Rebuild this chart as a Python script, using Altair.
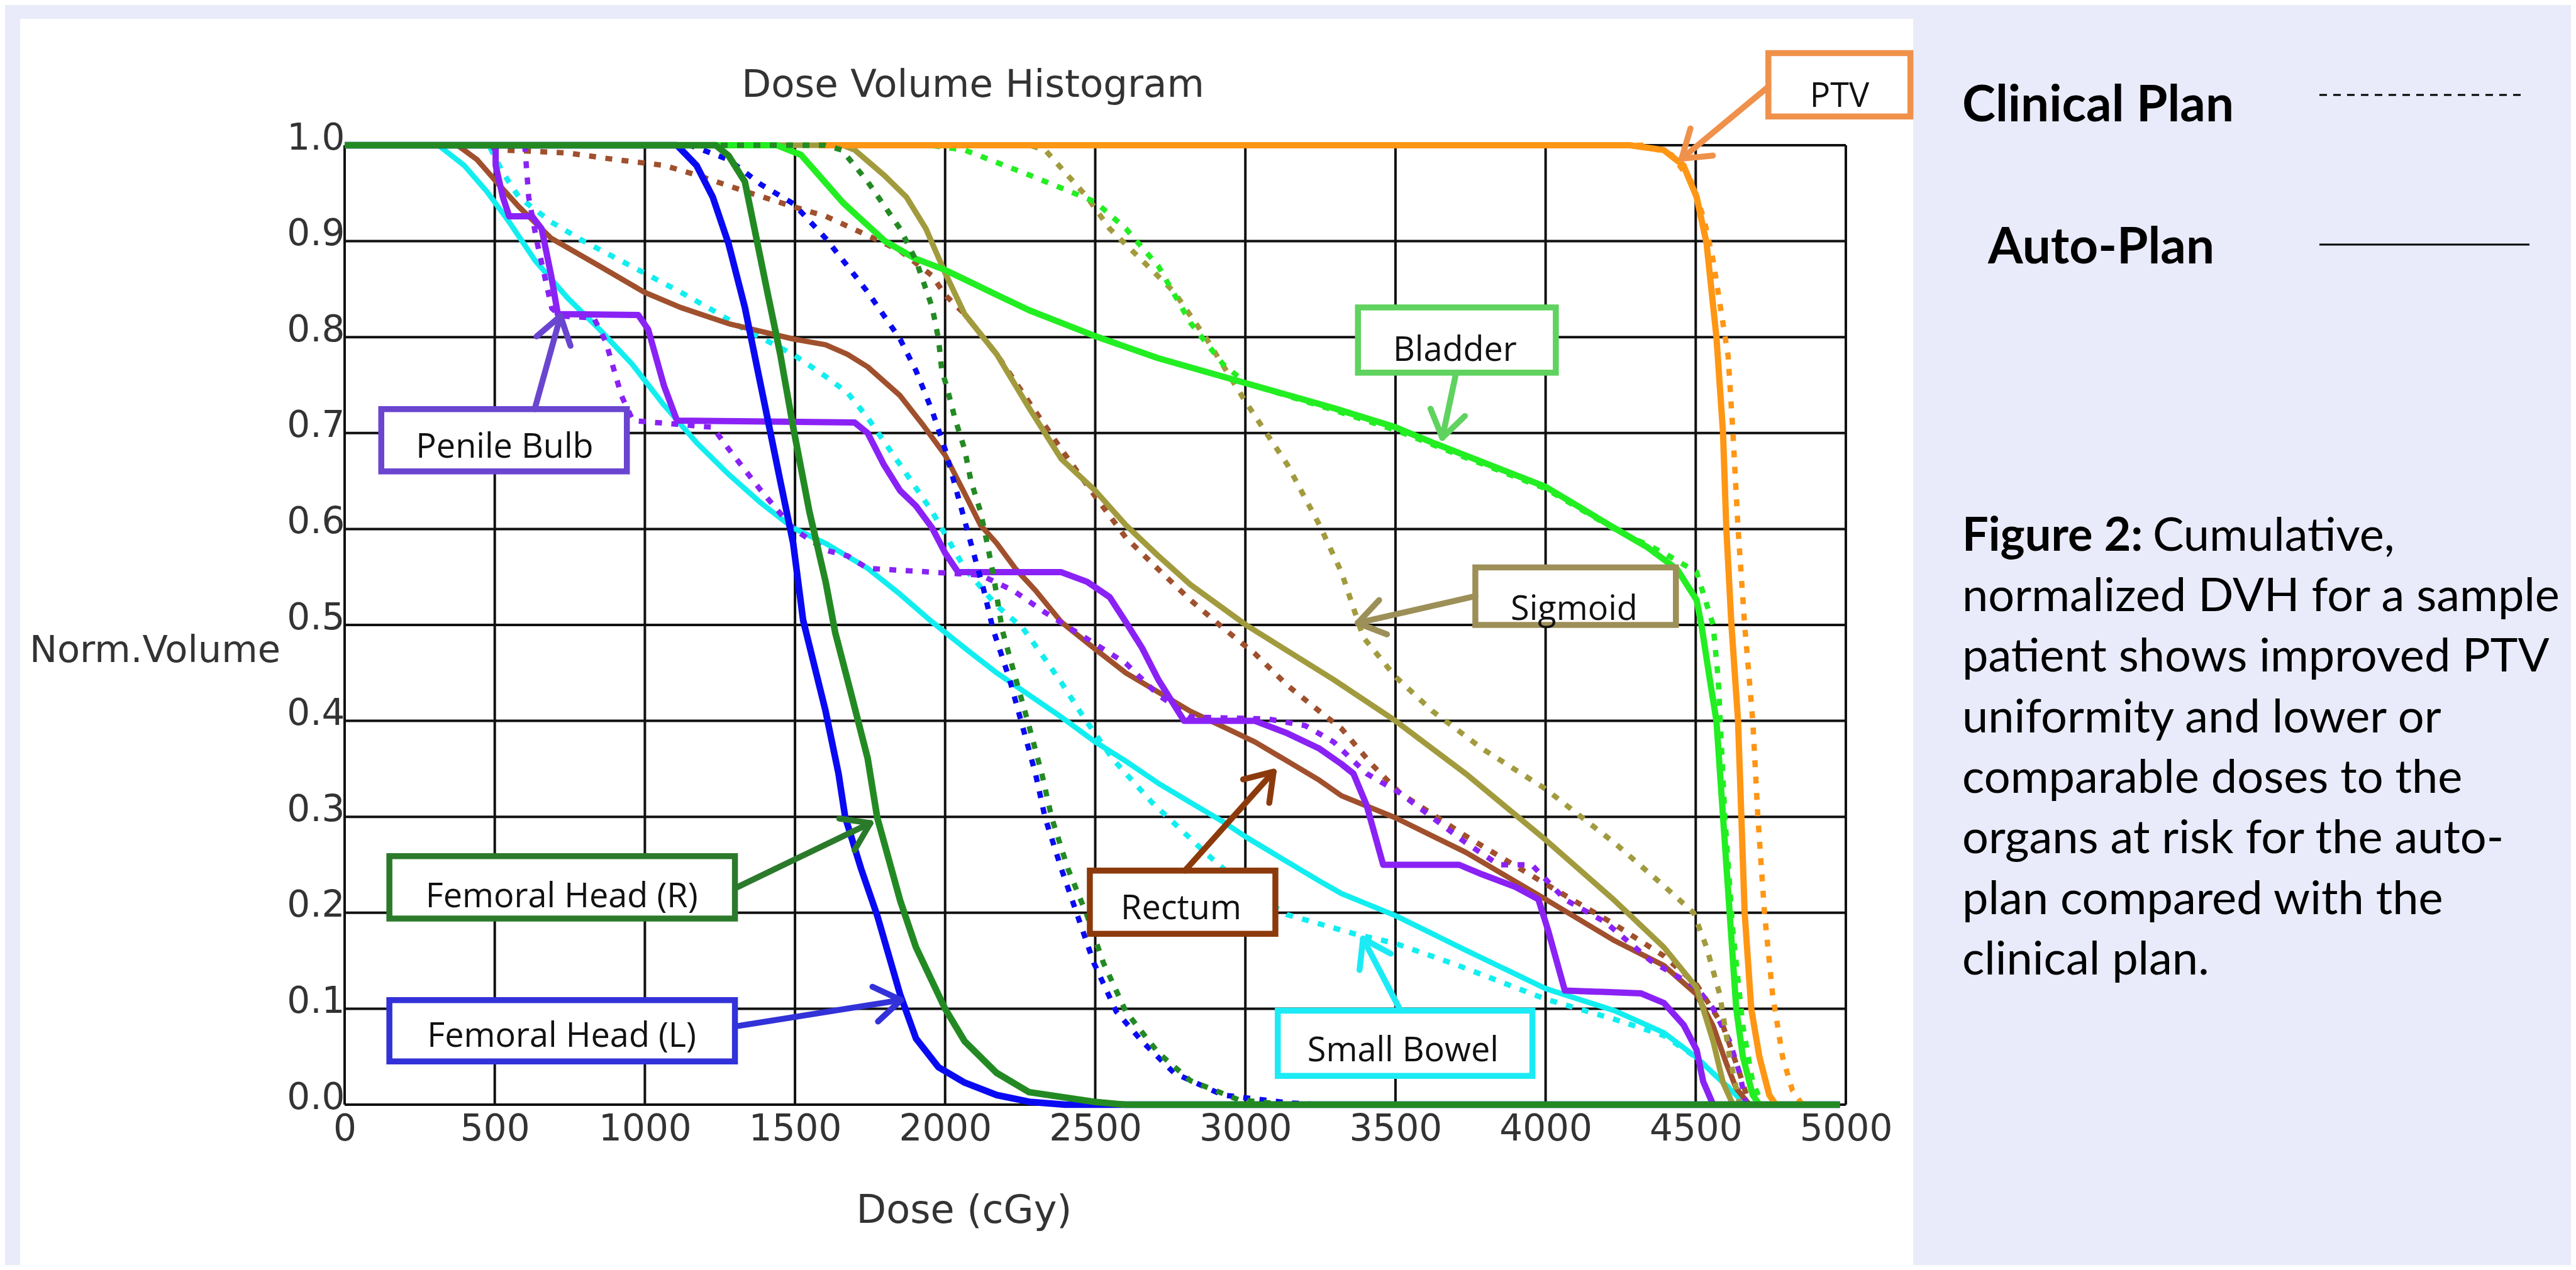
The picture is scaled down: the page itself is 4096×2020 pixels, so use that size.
import math
import altair as alt
import pandas as pd

# ---------------- data ----------------
X_TICKS = [0, 500, 1000, 1500, 2000, 2500, 3000, 3500, 4000, 4500, 5000]
Y_TICKS = [0.0, 0.1, 0.2, 0.3, 0.4, 0.5, 0.6, 0.7, 0.8, 0.9, 1.0]

SB_AUTO_DOSE = [0, 312, 398, 473, 548, 634, 742, 849, 957, 1064, 1172, 1279, 1387, 1494, 1602, 1742, 1850, 1957, 2065, 2172,
                2280, 2387, 2500, 2602, 2710, 2817, 2925, 3002, 3140, 3247, 3320, 3500, 3734, 4000, 4229, 4394, 4503, 4591, 4668, 4960]
SB_AUTO_VOL = [1.0, 1.0, 0.979, 0.952, 0.92, 0.88, 0.841, 0.808, 0.772, 0.729, 0.69, 0.657, 0.627, 0.601, 0.585, 0.559, 0.532, 0.503, 0.476, 0.45,
               0.427, 0.404, 0.378, 0.358, 0.335, 0.315, 0.295, 0.279, 0.253, 0.233, 0.22, 0.197, 0.161, 0.121, 0.098, 0.075, 0.049, 0.023, 0.0, 0.0]
SB_CLIN_DOSE = [0, 480, 530, 580, 688, 796, 997, 1118, 1226, 1333, 1494, 1602, 1675, 1742, 1850, 1957, 2065, 2172, 2258, 2320,
                2387, 2463, 2559, 2689, 2869, 3002, 3139, 3364, 3500, 3701, 4000, 4229, 4394, 4503, 4591, 4679, 4960]
SB_CLIN_VOL = [1.0, 1.0, 0.97, 0.946, 0.92, 0.9, 0.867, 0.847, 0.828, 0.808, 0.782, 0.759, 0.742, 0.716, 0.667, 0.618, 0.559, 0.52, 0.497, 0.47,
               0.44, 0.403, 0.36, 0.315, 0.262, 0.225, 0.198, 0.178, 0.168, 0.146, 0.11, 0.089, 0.072, 0.049, 0.023, 0.0, 0.0]

RECT_AUTO_DOSE = [0, 376, 441, 505, 580, 688, 849, 997, 1118, 1279, 1387, 1495, 1602, 1675, 1742, 1850, 1925, 2000, 2065, 2118,
                  2172, 2236, 2301, 2387, 2495, 2602, 2710, 2817, 2925, 3032, 3140, 3247, 3320, 3500, 3734, 4000, 4229, 4394, 4503, 4558,
                  4602, 4635, 4679, 4960]
RECT_AUTO_VOL = [1.0, 1.0, 0.985, 0.962, 0.936, 0.903, 0.874, 0.847, 0.831, 0.814, 0.806, 0.798, 0.792, 0.782, 0.769, 0.739, 0.709, 0.677, 0.637, 0.604,
                 0.585, 0.558, 0.536, 0.503, 0.476, 0.45, 0.43, 0.41, 0.394, 0.378, 0.358, 0.338, 0.322, 0.299, 0.263, 0.214, 0.171, 0.145, 0.115, 0.082,
                 0.043, 0.017, 0.0, 0.0]
RECT_CLIN_DOSE = [0, 450, 527, 742, 903, 1064, 1172, 1333, 1494, 1602, 1742, 1850, 1957, 2000, 2065, 2172, 2280, 2387, 2500, 2602,
                  2710, 2817, 2925, 3032, 3140, 3247, 3320, 3420, 3514, 3734, 4000, 4229, 4394, 4503, 4591, 4646, 4679, 4960]
RECT_CLIN_VOL = [1.0, 1.0, 0.995, 0.992, 0.985, 0.979, 0.969, 0.952, 0.936, 0.926, 0.906, 0.89, 0.864, 0.844, 0.824, 0.782, 0.732, 0.683, 0.634, 0.591,
                 0.558, 0.526, 0.497, 0.47, 0.437, 0.41, 0.392, 0.355, 0.325, 0.28, 0.23, 0.188, 0.155, 0.125, 0.082, 0.033, 0.0, 0.0]

PB_AUTO_DOSE = [0, 503, 503, 527, 548, 624, 656, 688, 710, 978, 1011, 1064, 1107, 1699, 1742, 1796, 1850, 1903, 1957, 2000,
                2043, 2387, 2473, 2548, 2602, 2656, 2710, 2796, 3032, 3140, 3247, 3320, 3360, 3404, 3459, 3712, 3789, 3899, 3976, 4009,
                4064, 4317, 4394, 4460, 4503, 4525, 4558, 4960]
PB_AUTO_VOL = [1.0, 1.0, 0.979, 0.946, 0.926, 0.926, 0.913, 0.864, 0.824, 0.823, 0.808, 0.749, 0.713, 0.711, 0.70, 0.667, 0.64, 0.624, 0.601, 0.575,
               0.555, 0.555, 0.545, 0.529, 0.503, 0.476, 0.443, 0.4, 0.4, 0.387, 0.371, 0.355, 0.345, 0.312, 0.25, 0.25, 0.24, 0.227, 0.214, 0.181,
               0.119, 0.116, 0.106, 0.083, 0.057, 0.024, 0.0, 0.0]
PB_CLIN_DOSE = [0, 600, 613, 640, 690, 720, 830, 870, 922, 960, 1226, 1280, 1387, 1495, 1602, 1675, 1742, 1957, 2118, 2226,
                2333, 2450, 2602, 2710, 2817, 3075, 3200, 3294, 3404, 3514, 3624, 3734, 3844, 3954, 4064, 4200, 4350, 4503, 4558, 4613,
                4646, 4668, 4960]
PB_CLIN_VOL = [1.0, 1.0, 0.946, 0.90, 0.83, 0.822, 0.82, 0.795, 0.739, 0.713, 0.706, 0.683, 0.64, 0.6, 0.578, 0.572, 0.559, 0.555, 0.552, 0.536,
               0.513, 0.49, 0.46, 0.427, 0.404, 0.402, 0.395, 0.378, 0.345, 0.325, 0.299, 0.273, 0.25, 0.25, 0.214, 0.19, 0.15, 0.122, 0.1, 0.066,
               0.033, 0.0, 0.0]

SIG_AUTO_DOSE = [0, 1660, 1699, 1796, 1871, 1936, 2000, 2065, 2172, 2280, 2387, 2500, 2602, 2710, 2817, 3002, 3294, 3500, 3734, 4000,
                 4229, 4394, 4503, 4558, 4591, 4624, 4960]
SIG_AUTO_VOL = [1.0, 1.0, 0.995, 0.969, 0.946, 0.913, 0.867, 0.824, 0.782, 0.726, 0.673, 0.640, 0.604, 0.572, 0.542, 0.5, 0.443, 0.4, 0.345, 0.276,
                0.213, 0.164, 0.122, 0.066, 0.023, 0.0, 0.0]
SIG_CLIN_DOSE = [0, 2280, 2333, 2473, 2548, 2656, 2763, 2871, 3002, 3140, 3247, 3320, 3393, 3500, 3624, 3789, 4000, 4229, 4394, 4493,
                 4536, 4580, 4613, 4646, 4960]
SIG_CLIN_VOL = [1.0, 1.0, 0.995, 0.946, 0.913, 0.88, 0.847, 0.798, 0.732, 0.667, 0.604, 0.555, 0.487, 0.446, 0.41, 0.371, 0.329, 0.273, 0.228, 0.2,
                0.164, 0.115, 0.05, 0.0, 0.0]

FHL_AUTO_DOSE = [0, 1107, 1172, 1226, 1279, 1333, 1376, 1408, 1451, 1494, 1527, 1602, 1645, 1667, 1720, 1774, 1850, 1903, 1978, 2065,
                 2172, 2280, 2400, 4980]
FHL_AUTO_VOL = [1.0, 1.0, 0.979, 0.946, 0.897, 0.831, 0.765, 0.716, 0.65, 0.585, 0.505, 0.41, 0.345, 0.3, 0.246, 0.197, 0.115, 0.069, 0.039, 0.023,
                0.01, 0.003, 0.0, 0.0]
FHL_CLIN_DOSE = [0, 1150, 1279, 1387, 1495, 1602, 1675, 1742, 1850, 1903, 1957, 2000, 2043, 2086, 2129, 2160, 2215, 2258, 2301, 2333,
                 2387, 2441, 2495, 2570, 2656, 2763, 2925, 3140, 3250, 4980]
FHL_CLIN_VOL = [1.0, 1.0, 0.985, 0.959, 0.939, 0.903, 0.874, 0.847, 0.798, 0.765, 0.723, 0.683, 0.634, 0.585, 0.536, 0.495, 0.443, 0.394, 0.345, 0.299,
                0.246, 0.197, 0.148, 0.097, 0.066, 0.033, 0.01, 0.002, 0.0, 0.0]

BLAD_AUTO_DOSE = [0, 1440, 1520, 1590, 1660, 1730, 1800, 1900, 2000, 2172, 2280, 2500, 2710, 3002, 3294, 3500, 3624, 4000, 4229, 4339,
                  4438, 4503, 4519, 4547, 4569, 4591, 4613, 4635, 4657, 4690, 4712, 4960]
BLAD_AUTO_VOL = [1.0, 1.0, 0.99, 0.965, 0.94, 0.92, 0.9, 0.882, 0.87, 0.844, 0.828, 0.801, 0.778, 0.752, 0.726, 0.706, 0.69, 0.644, 0.601, 0.581,
                 0.558, 0.526, 0.5, 0.443, 0.4, 0.3, 0.2, 0.1, 0.05, 0.01, 0.0, 0.0]
BLAD_CLIN_DOSE = [0, 1950, 2065, 2280, 2500, 2602, 2710, 2817, 2925, 3002, 3294, 3500, 4000, 4229, 4394, 4503, 4558, 4575, 4597, 4624,
                  4657, 4690, 4723, 4960]
BLAD_CLIN_VOL = [1.0, 1.0, 0.995, 0.969, 0.941, 0.913, 0.874, 0.815, 0.772, 0.752, 0.724, 0.703, 0.642, 0.600, 0.575, 0.555, 0.5, 0.443, 0.3, 0.18,
                 0.082, 0.023, 0.0, 0.0]

PTV_AUTO_DOSE = [1580, 4280, 4393, 4459, 4503, 4536, 4569, 4591, 4602, 4619, 4641, 4652, 4663, 4685, 4712, 4745, 4767, 4960]
PTV_AUTO_VOL = [1.0, 1.0, 0.995, 0.979, 0.946, 0.898, 0.8, 0.7, 0.6, 0.5, 0.4, 0.3, 0.2, 0.1, 0.05, 0.01, 0.0, 0.0]
PTV_CLIN_DOSE = [1580, 4330, 4420, 4490, 4530, 4558, 4608, 4624, 4641, 4663, 4690, 4707, 4729, 4756, 4789, 4822, 4855, 4960]
PTV_CLIN_VOL = [1.0, 1.0, 0.99, 0.96, 0.92, 0.88, 0.78, 0.70, 0.6, 0.5, 0.4, 0.3, 0.2, 0.115, 0.05, 0.015, 0.0, 0.0]

FHR_AUTO_DOSE = [0, 1236, 1279, 1333, 1365, 1408, 1451, 1494, 1548, 1602, 1634, 1688, 1742, 1774, 1850, 1903, 2000, 2065, 2172, 2280,
                 2495, 2600, 4980]
FHR_AUTO_VOL = [1.0, 1.0, 0.989, 0.962, 0.913, 0.847, 0.782, 0.706, 0.618, 0.545, 0.492, 0.427, 0.361, 0.299, 0.213, 0.164, 0.1, 0.066, 0.033, 0.013,
                0.003, 0.0, 0.0]
FHR_CLIN_DOSE = [0, 1600, 1656, 1742, 1850, 1903, 1957, 1978, 1989, 2005, 2032, 2065, 2086, 2118, 2140, 2161, 2190, 2236, 2280, 2322,
                 2355, 2409, 2473, 2527, 2602, 2710, 2817, 2978, 3140, 4980]
FHR_CLIN_VOL = [1.0, 1.0, 0.995, 0.962, 0.913, 0.88, 0.831, 0.798, 0.765, 0.749, 0.716, 0.683, 0.65, 0.618, 0.585, 0.552, 0.495, 0.443, 0.394, 0.345,
                0.299, 0.246, 0.197, 0.148, 0.097, 0.054, 0.025, 0.005, 0.0, 0.0]

# annotation call-outs (data space)
ANN_LABELS = ["PTV", "Bladder", "Sigmoid", "Penile Bulb", "Femoral Head (R)", "Femoral Head (L)", "Rectum", "Small Bowel"]
ANN_TEXT_DOSE = [4979, 3698, 4095, 533, 723, 723, 2786, 3525]
ANN_TEXT_VOL = [1.040, 0.775, 0.505, 0.674, 0.206, 0.060, 0.193, 0.045]
BOX_DOSE_1 = [4742, 3375, 3766, 122, 149, 149, 2482, 3108]
BOX_DOSE_2 = [5215, 4034, 4434, 940, 1300, 1300, 3100, 3956]
BOX_VOL_TOP = [1.096, 0.831, 0.560, 0.725, 0.259, 0.109, 0.244, 0.098]
BOX_VOL_BOT = [1.030, 0.763, 0.500, 0.660, 0.194, 0.045, 0.178, 0.030]
ARROW_FROM_DOSE = [4742, 3702, 3766, 633, 1300, 1300, 2799, 3517]
ARROW_FROM_VOL = [1.061, 0.763, 0.530, 0.725, 0.2255, 0.0815, 0.244, 0.098]
ARROW_TO_DOSE = [4453, 3656, 3374, 719, 1751, 1853, 3094, 3392]
ARROW_TO_VOL = [0.986, 0.695, 0.502, 0.822, 0.2935, 0.109, 0.347, 0.173]

CAPTION_LINES = ["normalized DVH for a sample", "patient shows improved PTV", "uniformity and lower or",
                 "comparable doses to the", "organs at risk for the auto-", "plan compared with the", "clinical plan."]

# ---------------- layout / style ----------------
W, H = 2387, 1526
PAD = {"left": 540, "top": 223, "right": 1153, "bottom": 255}

xs = alt.Scale(domain=[0, 5000], nice=False, zero=False)
ys = alt.Scale(domain=[0, 1], nice=False, zero=False)

AX_X = alt.Axis(values=X_TICKS, title=None, grid=False, ticks=False, domain=False, format="d",
                labelFont="DejaVu Sans", labelFontSize=58, labelColor="#333333", labelPadding=10,
                labelBaseline="top", labelFlush=False, labelOverlap=False, zindex=1)
AX_Y = alt.Axis(values=Y_TICKS, title=None, grid=False, ticks=False, domain=False, format=".1f",
                labelFont="DejaVu Sans", labelFontSize=58, labelColor="#333333", labelPadding=0,
                labelAlign="right", labelBaseline="alphabetic", labelOffset=6,
                labelFlush=False, labelOverlap=False, zindex=1)


def X(field):
    return alt.X(f"{field}:Q", scale=xs, axis=AX_X, title=None)


def Y(field):
    return alt.Y(f"{field}:Q", scale=ys, axis=AX_Y, title=None)


SERIES = [
    ("SB", "clin", SB_CLIN_DOSE, SB_CLIN_VOL, "#12EEF0", 8.5),
    ("SB", "auto", SB_AUTO_DOSE, SB_AUTO_VOL, "#12EEF0", 8.5),
    ("RECT", "clin", RECT_CLIN_DOSE, RECT_CLIN_VOL, "#A0502D", 8.5),
    ("RECT", "auto", RECT_AUTO_DOSE, RECT_AUTO_VOL, "#A0502D", 8.5),
    ("PB", "clin", PB_CLIN_DOSE, PB_CLIN_VOL, "#8A22F5", 8.5),
    ("PB", "auto", PB_AUTO_DOSE, PB_AUTO_VOL, "#8A22F5", 10),
    ("SIG", "clin", SIG_CLIN_DOSE, SIG_CLIN_VOL, "#A29B3E", 8.5),
    ("SIG", "auto", SIG_AUTO_DOSE, SIG_AUTO_VOL, "#A29B3E", 9),
    ("FHL", "clin", FHL_CLIN_DOSE, FHL_CLIN_VOL, "#0A0AF2", 8.5),
    ("FHL", "auto", FHL_AUTO_DOSE, FHL_AUTO_VOL, "#0A0AF2", 10.5),
    ("BLAD", "clin", BLAD_CLIN_DOSE, BLAD_CLIN_VOL, "#22EE22", 8.5),
    ("BLAD", "auto", BLAD_AUTO_DOSE, BLAD_AUTO_VOL, "#22EE22", 10),
    ("PTV", "clin", PTV_CLIN_DOSE, PTV_CLIN_VOL, "#FF9614", 8.5),
    ("PTV", "auto", PTV_AUTO_DOSE, PTV_AUTO_VOL, "#FF9614", 10),
    ("FHR", "clin", FHR_CLIN_DOSE, FHR_CLIN_VOL, "#238A23", 8.5),
    ("FHR", "auto", FHR_AUTO_DOSE, FHR_AUTO_VOL, "#238A23", 10.5),
]
BOX_COLORS = ["#F0914B", "#5FD25F", "#9D8F58", "#6A45CF", "#2B7A2B", "#3232D8", "#8C3A0C", "#1CEBF5"]

one = pd.DataFrame({"k": [0]})

# white panel behind the chart
panel = alt.Chart(one).mark_rect(fill="white").encode(
    x=alt.value(-516), x2=alt.value(2494), y=alt.value(-201), y2=alt.value(1790))

# grid (drawn as rules through the scales) + axes with labels only
grid_x = alt.Chart(pd.DataFrame({"dose": X_TICKS})).mark_rule(color="#111111", strokeWidth=4).encode(
    x=X("dose"), y=alt.value(0), y2=alt.value(H))
grid_y = alt.Chart(pd.DataFrame({"vol": Y_TICKS})).mark_rule(color="#111111", strokeWidth=4).encode(
    y=Y("vol"), x=alt.value(0), x2=alt.value(W))

layers = [panel, grid_x, grid_y]

for organ, plan, d, v, col, sw in SERIES:
    df = pd.DataFrame({"dose": d, "vol": v, "i": list(range(len(d)))})
    kw = dict(color=col, strokeWidth=sw, strokeJoin="round")
    if plan == "clin":
        kw["strokeDash"] = [11, 15]
    layers.append(alt.Chart(df).mark_line(**kw).encode(
        x=X("dose"), y=Y("vol"), order=alt.Order("i:Q")))

# call-out boxes
box_df = pd.DataFrame({"x1": BOX_DOSE_1, "x2": BOX_DOSE_2, "y1": BOX_VOL_TOP, "y2": BOX_VOL_BOT, "col": BOX_COLORS})
layers.append(alt.Chart(box_df).mark_rect(fill="white", strokeWidth=9.5).encode(
    x=X("x1"), x2="x2:Q", y=Y("y1"), y2="y2:Q",
    stroke=alt.Stroke("col:N", scale=None)))

# arrows: shafts and open heads (heads computed in screen space)
sx, sy = W / 5000.0, H / 1.0
seg = []
for k in range(len(ANN_LABELS)):
    x0, y0, x1, y1 = ARROW_FROM_DOSE[k], ARROW_FROM_VOL[k], ARROW_TO_DOSE[k], ARROW_TO_VOL[k]
    seg.append((x0, y0, x1, y1, BOX_COLORS[k]))
    dx, dy = (x1 - x0) * sx, -(y1 - y0) * sy
    n = math.hypot(dx, dy)
    ux, uy = dx / n, dy / n
    L = 50
    for s in (1, -1):
        a = math.radians(34) * s
        bx = -ux * math.cos(a) + uy * math.sin(a)
        by = -ux * math.sin(a) - uy * math.cos(a)
        seg.append((x1, y1, x1 + bx * L / sx, y1 - by * L / sy, BOX_COLORS[k]))
seg_df = pd.DataFrame(seg, columns=["xa", "ya", "xb", "yb", "col"])
layers.append(alt.Chart(seg_df).mark_rule(strokeWidth=9.5, strokeCap="round").encode(
    x=X("xa"), x2="xb:Q", y=Y("ya"), y2="yb:Q",
    color=alt.Color("col:N", scale=None)))

# call-out labels
lab_df = pd.DataFrame({"label": ANN_LABELS, "x": ANN_TEXT_DOSE, "y": ANN_TEXT_VOL})
layers.append(alt.Chart(lab_df).mark_text(font="Open Sans", fontSize=54, color="#111111",
                                          align="center", baseline="alphabetic").encode(
    x=X("x"), y=Y("y"), text="label:N"))

# titles
layers.append(alt.Chart(one).mark_text(text="Dose Volume Histogram", font="DejaVu Sans", fontSize=61,
                                       color="#333333", align="center", baseline="alphabetic").encode(
    x=alt.value(999), y=alt.value(-77)))
layers.append(alt.Chart(one).mark_text(text="Norm.Volume", font="DejaVu Sans", fontSize=59,
                                       color="#333333", align="right", baseline="alphabetic").encode(
    x=alt.value(-102), y=alt.value(822)))
layers.append(alt.Chart(one).mark_text(text="Dose (cGy)", font="DejaVu Sans", fontSize=62,
                                       color="#333333", align="center", baseline="alphabetic").encode(
    x=alt.value(985), y=alt.value(1714)))

# right-hand legend + caption
layers.append(alt.Chart(one).mark_text(text="Clinical Plan", font="Lato", fontWeight="bold", fontSize=80,
                                       color="black", align="left", baseline="alphabetic").encode(
    x=alt.value(2572), y=alt.value(-38)))
layers.append(alt.Chart(one).mark_text(text="Auto-Plan", font="Lato", fontWeight="bold", fontSize=80,
                                       color="black", align="left", baseline="alphabetic").encode(
    x=alt.value(2613), y=alt.value(188)))
layers.append(alt.Chart(one).mark_rule(color="black", strokeWidth=3, strokeDash=[12, 10]).encode(
    x=alt.value(3140), x2=alt.value(3461), y=alt.value(-80)))
layers.append(alt.Chart(one).mark_rule(color="black", strokeWidth=3).encode(
    x=alt.value(3140), x2=alt.value(3474), y=alt.value(158)))
layers.append(alt.Chart(one).mark_text(text="Figure 2:", font="Lato", fontWeight="bold", fontSize=74,
                                       color="black", align="left", baseline="alphabetic").encode(
    x=alt.value(2572), y=alt.value(645)))
layers.append(alt.Chart(one).mark_text(text="Cumulative,", font="Lato", fontSize=74,
                                       color="black", align="left", baseline="alphabetic").encode(
    x=alt.value(2875), y=alt.value(645)))
layers.append(alt.Chart(one).mark_text(text=CAPTION_LINES, font="Lato", fontSize=74, lineHeight=96.3,
                                       color="black", align="left", baseline="alphabetic").encode(
    x=alt.value(2572), y=alt.value(741)))

chart = alt.layer(*layers).properties(
    width=W, height=H, autosize=alt.AutoSizeParams(type="none"), padding=PAD
).configure(background="#E9EBFA").configure_view(stroke=None)

chart.save("out.html", embed_options={"renderer": "svg", "actions": False})
